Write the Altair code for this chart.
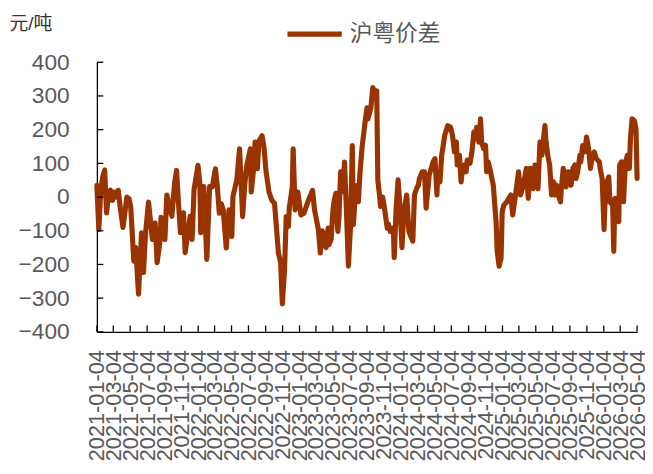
import altair as alt
import pandas as pd

SERIES = "沪粤价差"

weeks = [
    0, 1, 2, 3, 4, 5, 6, 7, 8, 9, 10, 11, 12, 13.5,
    15.5, 16.5, 17.5, 19, 20, 21.5, 23, 24, 25, 26.5, 28.5, 30, 31, 32.5, 33, 35, 36, 37.5, 38.5, 40, 41, 42, 43, 44.5, 45.5,
    48, 49, 50, 52, 53, 53.5, 55, 56.5, 58, 59.5, 61, 62, 63, 64, 65, 66.5, 68, 69.5, 70, 72, 73.5, 75, 76, 77,
    79, 79.5, 80.5, 81.5, 82.5, 83.5, 85, 86, 87, 88.5, 90, 91.5, 93.5, 94.5, 95.5, 96.5, 97.5, 98.5, 99, 100.5, 101, 102, 103.5, 105, 106.5, 108.5,
    111, 112, 114, 115, 116, 118, 119, 119.5, 120.5, 121.5, 122, 123, 124, 124.5, 125.5, 126.5, 127.5, 128.5, 129.5, 130.5, 131.5, 132, 133, 134, 134.5, 135.5, 136.5, 137, 138, 139, 139.5,
    141, 142, 143, 144, 144.5, 145.5, 146, 147, 148, 149.5, 150, 151, 152.5, 153, 154, 155, 156, 157, 158, 159.5, 160.5, 162.5, 163.5, 164.5, 165.5, 166, 167.5, 168.5, 169.5, 171,
    173, 174, 175, 175.5, 176.5, 177.5, 178, 179, 180.5, 182, 183, 184, 185, 185.5, 186.5, 187.5, 188, 189, 190, 190.5, 192, 193, 194, 195, 195.5, 196.5, 197.5, 198, 199, 200, 200.5, 201.5, 202.5,
    204, 205.5, 206, 207, 208, 208.5, 209.5, 211, 212, 213, 214, 215.5, 217, 218, 219.5, 221, 222, 223, 224.5, 225.5, 226.5, 227, 228, 229, 230.5, 231, 232, 233,
    234, 235, 236, 236.5, 237.5, 238.5, 239, 240, 241, 241.5, 242.5, 243.5, 244, 245, 246, 246.5, 247.5, 248.5, 249, 250, 251, 252, 253, 254, 255, 256, 257, 258.5, 259, 260, 261, 261.5, 262.5, 263.5, 264,
    265.5, 266, 266.5, 267.5, 268.5, 269, 270, 271, 272, 273, 274, 274.5, 275.5, 276.5, 277.5, 278,
]

values = [
    35, -97, 20, 60, 80, -47, 10, 20, -10, 15, 0, 20, -30, -90,
    0, -5, -30, -190, -150, -288, -106, -224, -110, -15, -126, -77, -195, -126, -60, -126, 6, -30, -57, 41, 79, -18, -106, -47, -165,
    -57, -126, 21, 94, 41, -106, 31, -185, 31, 30, 84, 30, -48, -20, -38, -151, -38, -117, 1, 50, 143, -58, 30, 89,
    143, 15, 79, 163, 84, 167, 182, 148, 79, 15, -9, -19, -166, -195, -317, -215, -58, -87, -33, 30, 143, -38, 15, -53, -48, -14,
    20, -38, -97, -166, -100, -150, -92, -141, -125, -43, -14, 11, -102, -60, 75, 16, 104, -63, -205, -82, 153, -82, 6, 35, -14, 75, 153, 173, 222, 265, 231,
    265, 325, 310, 315, 51, 6, -28, 0, -33, -92, -80, -102, -92, -180, -33, 51, -33, -150, -43, 6, -102, -131, 6, 26, 35, 55, 75, 75, -33, 65,
    104, 114, 6, 75, 45, 124, 144, 183, 212, 207, 183, 134, 163, 95, 124, 45, 75, 95, 75, 110, 100, 134, 193, 173, 207, 163, 232, 163, 144, 154, 75, 104, 75,
    35, -73, -161, -205, -181, -44, -24, -14, -4, 6, -53, 6, 75, 6, 35, 85, -4, 85, 25, 95, 50, 25, 163, 124, 212, 173, 124, 95,
    6, 45, 6, 35, 6, -14, 25, 85, 55, 30, 75, 55, 35, 85, 95, 55, 75, 124, 104, 153, 134, 178, 144, 85, 124, 134, 114, 104, 85, 55, -97, -24, 45, 60, -14,
    -24, -161, -4, -63, -73, 95, 104, -14, 104, 124, 85, 173, 232, 227, 202, 55,
]

tick_dates = [
    "2021-01-04", "2021-03-04", "2021-05-04", "2021-07-04", "2021-09-04", "2021-11-04",
    "2022-01-04", "2022-03-04", "2022-05-04", "2022-07-04", "2022-09-04", "2022-11-04",
    "2023-01-04", "2023-03-04", "2023-05-04", "2023-07-04", "2023-09-04", "2023-11-04",
    "2024-01-04", "2024-03-04", "2024-05-04", "2024-07-04", "2024-09-04", "2024-11-04",
    "2025-01-04", "2025-03-04", "2025-05-04", "2025-07-04", "2025-09-04", "2025-11-04",
    "2026-01-04", "2026-03-04", "2026-05-04",
]

y_ticks = [-400, -300, -200, -100, 0, 100, 200, 300, 400]

FONT = "Liberation Sans, Arial, Noto Sans CJK SC, sans-serif"
LINE_COLOR = "#993300"
TEXT_COLOR = "#595959"

start = pd.Timestamp("2021-01-04")
df = pd.DataFrame({
    "date": [start + pd.Timedelta(days=round(w * 7)) for w in weeks],
    "value": values,
    "series": SERIES,
})

tick_ts = pd.to_datetime(tick_dates)
xt = pd.DataFrame({"date": tick_ts})
yt = pd.DataFrame({"value": y_ticks})

x_vals = [alt.DateTime(year=int(t.year), month=int(t.month), date=int(t.day)) for t in tick_ts]
x_scale = alt.Scale(domain=[x_vals[0], x_vals[-1]])
y_scale = alt.Scale(domain=[-400, 400], nice=False)

x_axis = alt.Axis(
    values=x_vals, format="%Y-%m-%d", labelAngle=270, labelOverlap=False,
    labelBound=False, labelFlush=False, labelFontSize=22, labelColor=TEXT_COLOR,
    labelFont=FONT, labelPadding=18, ticks=False, tickSize=0, grid=False,
    domainColor="black", domainWidth=1.3, title=None)
y_axis = alt.Axis(
    values=y_ticks, labelOverlap=False, labelFontSize=23, labelColor=TEXT_COLOR,
    labelFont=FONT, labelPadding=28, ticks=False, tickSize=0, grid=False,
    domainColor="black", domainWidth=1.3, title="元/吨", titleAngle=0,
    titleX=-89, titleY=-39, titleAlign="left", titleBaseline="middle",
    titleFontSize=19, titleFontWeight="normal", titleColor="#333333",
    titleFont=FONT)

line = alt.Chart(df).mark_line(strokeWidth=5.2, strokeJoin="round", strokeCap="round").encode(
    x=alt.X("date:T", scale=x_scale, axis=x_axis),
    y=alt.Y("value:Q", scale=y_scale, axis=y_axis),
    color=alt.Color("series:N", scale=alt.Scale(domain=[SERIES], range=[LINE_COLOR]),
                    legend=alt.Legend(title=None, orient="none", legendX=190, legendY=-59,
                                      symbolType="stroke", symbolSize=3025,
                                      symbolStrokeWidth=5.3, labelFontSize=23,
                                      labelColor=TEXT_COLOR, labelFont=FONT,
                                      padding=0, labelOffset=5)),
)

yrules = alt.Chart(yt).mark_rule(color="black", strokeWidth=1.3).encode(
    y=alt.Y("value:Q", scale=y_scale, axis=y_axis), x=alt.value(0), x2=alt.value(6.5))

xrules = alt.Chart(xt).mark_rule(color="black", strokeWidth=1.3).encode(
    x=alt.X("date:T", scale=x_scale, axis=x_axis), y=alt.value(273), y2=alt.value(266.5))

chart = alt.layer(line, yrules, xrules).properties(
    width=547, height=273,
    padding={"left": 90, "top": 52, "right": 8, "bottom": 141},
    autosize="none",
    background="white",
).configure_view(stroke=None)

chart.save("out.html", embed_options={"renderer": "svg", "actions": False})
